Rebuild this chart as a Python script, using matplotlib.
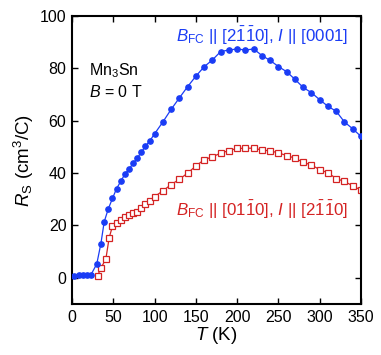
import matplotlib
matplotlib.use("Agg")
import matplotlib.pyplot as plt

plt.rcParams['font.family'] = ['Liberation Sans', 'DejaVu Sans']
plt.rcParams['mathtext.fontset'] = 'custom'
plt.rcParams['mathtext.rm'] = 'Liberation Sans'
plt.rcParams['mathtext.it'] = 'Liberation Sans:italic'
plt.rcParams['mathtext.bf'] = 'Liberation Sans:bold'

# Blue series: B_FC || [2-1-10], I || [0001]
T_blue = [3, 8, 13, 18, 23, 30, 35, 39, 44, 49, 54, 59, 64, 69, 74, 79, 84, 89, 94, 100,
          110, 120, 130, 140, 150, 160, 170, 180, 190, 200, 210, 220, 230, 240, 250,
          260, 270, 280, 290, 300, 310, 320, 330, 340, 350]
R_blue = [0.8, 0.9, 1.0, 1.0, 1.2, 5.3, 13.1, 21.4, 26.4, 30.3, 34.1, 36.8, 39.6, 41.5, 43.7,
          45.7, 48.0, 50.3, 52.2, 55.0,
          59.5, 64.3, 68.7, 73.0, 77.0, 80.6, 83.2, 86.4, 87.0, 87.4, 87.0, 87.4, 84.9, 83.0,
          80.7, 78.7, 75.8, 72.7, 70.7, 68.0, 65.5, 63.6, 59.5, 56.9, 54.0]

# Red series: B_FC || [01-10], I || [2-1-10]
T_red = [31, 35, 41, 45, 49, 54, 59, 64, 69, 74, 79, 84, 89, 94, 100,
         110, 120, 130, 140, 150, 160, 170, 180, 190, 200, 210, 220, 230, 240, 250,
         260, 270, 280, 290, 300, 310, 320, 330, 340, 350]
R_red = [0.8, 3.7, 7.2, 15.3, 19.7, 21.0, 22.0, 23.2, 24.0, 24.6, 25.1, 26.8, 28.0, 29.3, 31.0,
         33.2, 35.6, 37.6, 40.0, 42.7, 45.1, 46.2, 47.6, 48.6, 49.4, 49.5, 49.5, 48.8, 48.5,
         47.7, 46.7, 45.7, 44.1, 43.1, 41.3, 40.1, 37.9, 36.8, 35.1, 33.5]

x_ticks = [0, 50, 100, 150, 200, 250, 300, 350]
y_ticks = [0, 20, 40, 60, 80, 100]

blue = '#1a3cf5'
red = '#d42323'

fig = plt.figure(figsize=(3.81, 3.55), dpi=100)
ax = fig.add_axes([0.189, 0.1437, 0.7585, 0.8113])

ax.plot(T_red, R_red, '-', color=red, lw=0.9, marker='s', ms=4.6, mfc='white',
        mec=red, mew=0.9, zorder=2)
ax.plot(T_blue, R_blue, '-', color=blue, lw=0.9, marker='o', ms=3.8, mfc=blue,
        mec=blue, zorder=3)

ax.set_xlim(0, 350)
ax.set_ylim(-10, 100)
ax.set_xticks(x_ticks)
ax.set_yticks(y_ticks)
ax.tick_params(direction='in', top=True, right=True, length=4.5, width=1,
               labelsize=11.5, pad=4)
for s in ax.spines.values():
    s.set_linewidth(1.5)

ax.set_xlabel(r'$T$ (K)', fontsize=13.5, labelpad=0)
ax.set_ylabel(r'$R_{\mathrm{S}}$ (cm$^3$/C)', fontsize=13.5, labelpad=3)

ax.text(0.059, 0.809, r'Mn$_3$Sn', transform=ax.transAxes, fontsize=11.5, va='center')
ax.text(0.059, 0.736, r'$B$ = 0 T', transform=ax.transAxes, fontsize=11.5, va='center')

ax.text(0.955, 0.93, r'$B_{\mathrm{FC}}$ || [2$\bar{1}\bar{1}$0], $I$ || [0001]',
        transform=ax.transAxes, fontsize=12.2, color=blue, ha='right', va='center')
ax.text(0.955, 0.326, r'$B_{\mathrm{FC}}$ || [01$\bar{1}$0], $I$ || [2$\bar{1}\bar{1}$0]',
        transform=ax.transAxes, fontsize=12.2, color=red, ha='right', va='center')

fig.savefig('out.png', dpi=100)
